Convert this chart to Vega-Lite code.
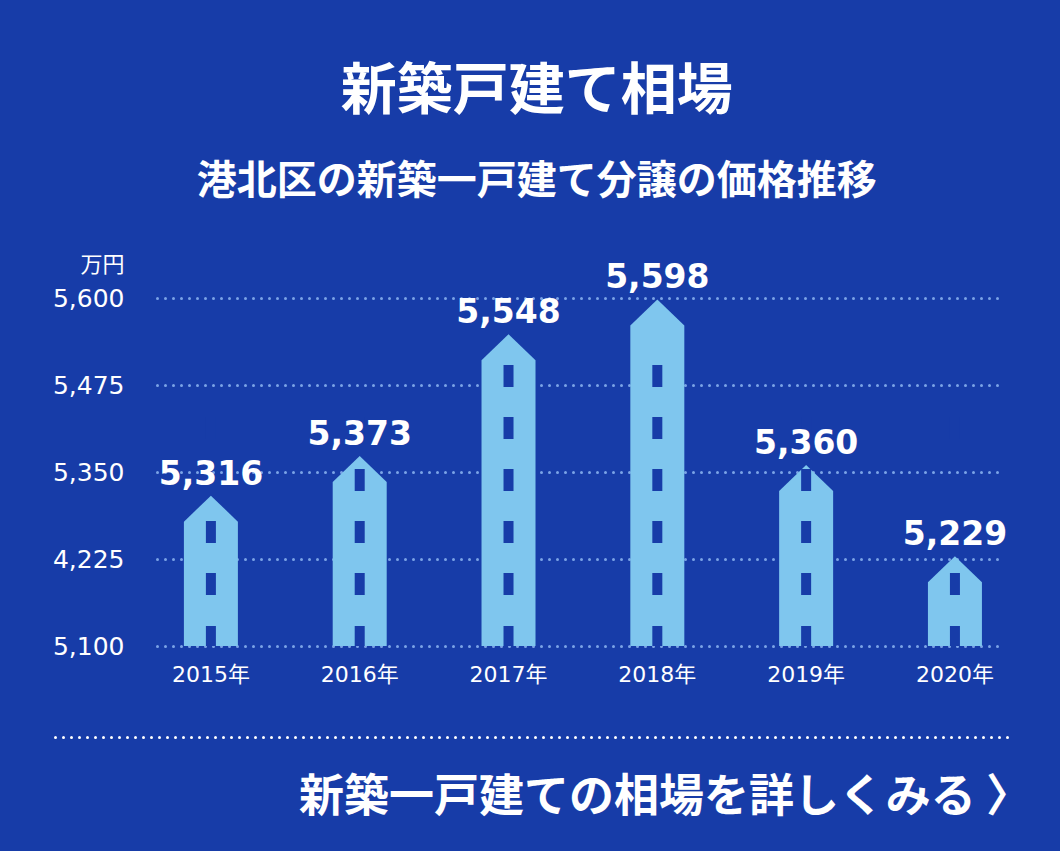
{
  "$schema": "https://vega.github.io/schema/vega-lite/v6.json",
  "background": "#173ca8",
  "padding": {"left": 52, "top": 64, "right": 53, "bottom": 10},
  "title": {
    "text": "新築戸建て相場",
    "subtitle": "港北区の新築一戸建て分譲の価格推移",
    "anchor": "middle",
    "dx": -45,
    "font": "Noto Sans CJK JP",
    "fontSize": 56,
    "fontWeight": "bold",
    "color": "white",
    "subtitleFont": "Noto Sans CJK JP",
    "subtitleFontSize": 40,
    "subtitleFontWeight": "bold",
    "subtitleColor": "white",
    "subtitlePadding": 41,
    "offset": 50
  },
  "datasets": {
    "prices": [
      {"year": "2015", "value": 5316},
      {"year": "2016", "value": 5373},
      {"year": "2017", "value": 5548},
      {"year": "2018", "value": 5598},
      {"year": "2019", "value": 5360},
      {"year": "2020", "value": 5229}
    ],
    "link": [{"label": "新築一戸建ての相場を詳しくみる 〉"}]
  },
  "spacing": 52,
  "vconcat": [
    {
      "width": 843,
      "height": 348,
      "data": {"name": "prices"},
      "encoding": {
        "x": {
          "field": "year",
          "type": "nominal",
          "scale": {"type": "band", "paddingInner": 0.5, "paddingOuter": 0.0825, "align": 0.68},
          "axis": {
            "title": null,
            "labelExpr": "datum.label + '年'",
            "labelFont": "DejaVu Sans, Noto Sans CJK JP",
            "labelFontSize": 22,
            "labelColor": "white",
            "labelAngle": 0,
            "labelPadding": 18,
            "labelBaseline": "top",
            "ticks": false,
            "tickSize": 0,
            "domain": false,
            "grid": false
          }
        },
        "y": {
          "field": "value",
          "type": "quantitative",
          "scale": {"domain": [5100, 5600], "nice": false, "zero": false},
          "axis": {
            "title": "万円",
            "titleAngle": 0,
            "titleAlign": "right",
            "titleBaseline": "middle",
            "titleX": -33,
            "titleY": -34,
            "titleFont": "Noto Sans CJK JP",
            "titleFontSize": 22,
            "titleFontWeight": "normal",
            "titleColor": "white",
            "values": [5100, 5225, 5350, 5475, 5600],
            "labelExpr": "datum.value == 5225 ? '4,225' : format(datum.value, ',')",
            "labelFont": "DejaVu Sans",
            "labelFontSize": 25,
            "labelColor": "white",
            "labelPadding": 33,
            "ticks": false,
            "tickSize": 0,
            "domain": false,
            "grid": true,
            "gridColor": "#7ba3e6",
            "gridDash": [0, 8],
            "gridCap": "round",
            "gridWidth": 3
          }
        }
      },
      "layer": [
        {
          "mark": {"type": "point", "shape": "M0,0L27,26L27,420L-27,420L-27,26Z", "size": 4, "filled": true, "opacity": 1, "color": "#7fc6ee", "strokeWidth": 0, "clip": true}
        },
        {
          "mark": {"type": "point", "shape": "M-5,0V-20H5V0Z M-5,-51V-73H5V-51Z M-5,-103V-125H5V-103Z M-5,-207V-229H5V-207Z", "size": 4, "filled": true, "opacity": 1, "color": "#173ca8", "strokeWidth": 0},
          "encoding": {"y": {"value": "height"}}
        },
        {
          "transform": [{"filter": "datum.value > 5330"}],
          "mark": {"type": "point", "shape": "M-5,-155V-177H5V-155Z", "size": 4, "filled": true, "opacity": 1, "color": "#173ca8", "strokeWidth": 0},
          "encoding": {"y": {"value": "height"}}
        },
        {
          "transform": [{"filter": "datum.value > 5480"}],
          "mark": {"type": "point", "shape": "M-5,-259V-281H5V-259Z", "size": 4, "filled": true, "opacity": 1, "color": "#173ca8", "strokeWidth": 0},
          "encoding": {"y": {"value": "height"}}
        },
        {
          "mark": {"type": "text", "dy": -11, "baseline": "alphabetic", "fontSize": 33, "fontWeight": "bold", "font": "DejaVu Sans", "color": "white"},
          "encoding": {
            "text": {"field": "value", "type": "quantitative", "format": ","}
          }
        }
      ]
    },
    {
      "width": 852,
      "height": 104,
      "data": {"name": "link"},
      "mark": {"type": "text", "align": "right", "baseline": "middle", "dx": 22, "dy": 9, "fontSize": 45, "fontWeight": "bold", "font": "Noto Sans CJK JP", "color": "white"},
      "encoding": {
        "x": {
          "datum": 1,
          "type": "quantitative",
          "scale": {"domain": [0, 1], "range": [-102, 852], "nice": false},
          "axis": {
            "orient": "top",
            "labels": false,
            "ticks": false,
            "grid": false,
            "title": null,
            "domain": true,
            "domainColor": "white",
            "domainDash": [0, 8],
            "domainCap": "round",
            "domainWidth": 3
          }
        },
        "text": {"field": "label"}
      }
    }
  ],
  "config": {"view": {"stroke": null}}
}
